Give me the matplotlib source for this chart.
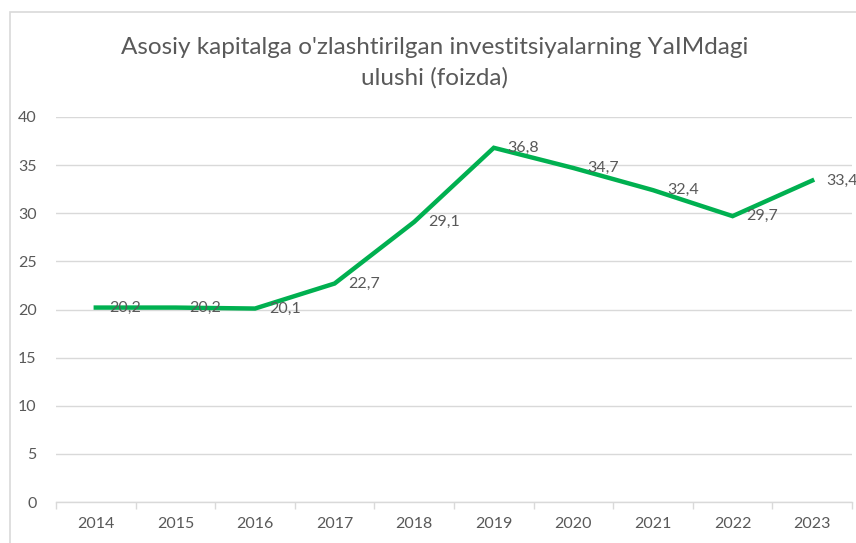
"""
Asosiy kapitalga o'zlashtirilgan investitsiyalarning YaIMdagi ulushi
"""
import matplotlib
matplotlib.use("Agg")
import matplotlib.pyplot as plt
from matplotlib.patches import Rectangle

# Ma'lumotlar
years = ["2014", "2015", "2016", "2017", "2018", "2019", "2020", "2021", "2022", "2023"]
share = [20.2, 20.2, 20.1, 22.7, 29.1, 36.8, 34.7, 32.4, 29.7, 33.4]
y_ticks = [0, 5, 10, 15, 20, 25, 30, 35, 40]

title = "Asosiy kapitalga o'zlashtirilgan investitsiyalarning YaIMdagi\nulushi (foizda)"

grey_text = "#595959"
grid_col = "#d9d9d9"
green = "#00B050"

plt.rcParams["font.family"] = ["Lato", "DejaVu Sans"]

fig = plt.figure(figsize=(8.56, 5.43), dpi=100)
ax = fig.add_axes([56 / 856, 1 - 502 / 543, 796 / 856, 385 / 543])

# Ramka
fig.patches.append(Rectangle((10 / 856, -0.05), 1.0, 1 - 12 / 543 + 0.05,
                             transform=fig.transFigure, fill=False,
                             edgecolor=grid_col, linewidth=1.2))

x = list(range(len(years)))
ax.plot(x, share, color=green, linewidth=3.2, solid_joinstyle="miter")

for xi, v in zip(x, share):
    ax.annotate(f"{v:.1f}".replace(".", ","), (xi, v), xytext=(10, 0),
                textcoords="offset points", ha="left", va="center",
                fontsize=11.5, color=grey_text)

ax.set_xlim(-0.5, len(years) - 0.5)
ax.set_ylim(0, 40)
ax.set_yticks(y_ticks)
ax.set_xticks(x)
ax.set_xticklabels(years)
ax.set_xticks([i - 0.5 for i in range(len(years) + 1)], minor=True)

ax.grid(axis="y", color=grid_col, linewidth=1)
ax.set_axisbelow(True)
for s in ["top", "right", "left"]:
    ax.spines[s].set_visible(False)
ax.spines["bottom"].set_color(grid_col)
ax.spines["bottom"].set_linewidth(1)

ax.tick_params(axis="y", length=0, pad=14, labelsize=11.5, labelcolor=grey_text)
ax.tick_params(axis="x", which="major", length=0, pad=11, labelsize=11.5, labelcolor=grey_text)
ax.tick_params(axis="x", which="minor", length=5, color=grid_col, width=1)

fig.text(0.508, 1 - 63 / 543, title, ha="center", va="center",
         fontsize=17.5, color=grey_text, linespacing=1.55)

fig.savefig("out.png", dpi=100)
